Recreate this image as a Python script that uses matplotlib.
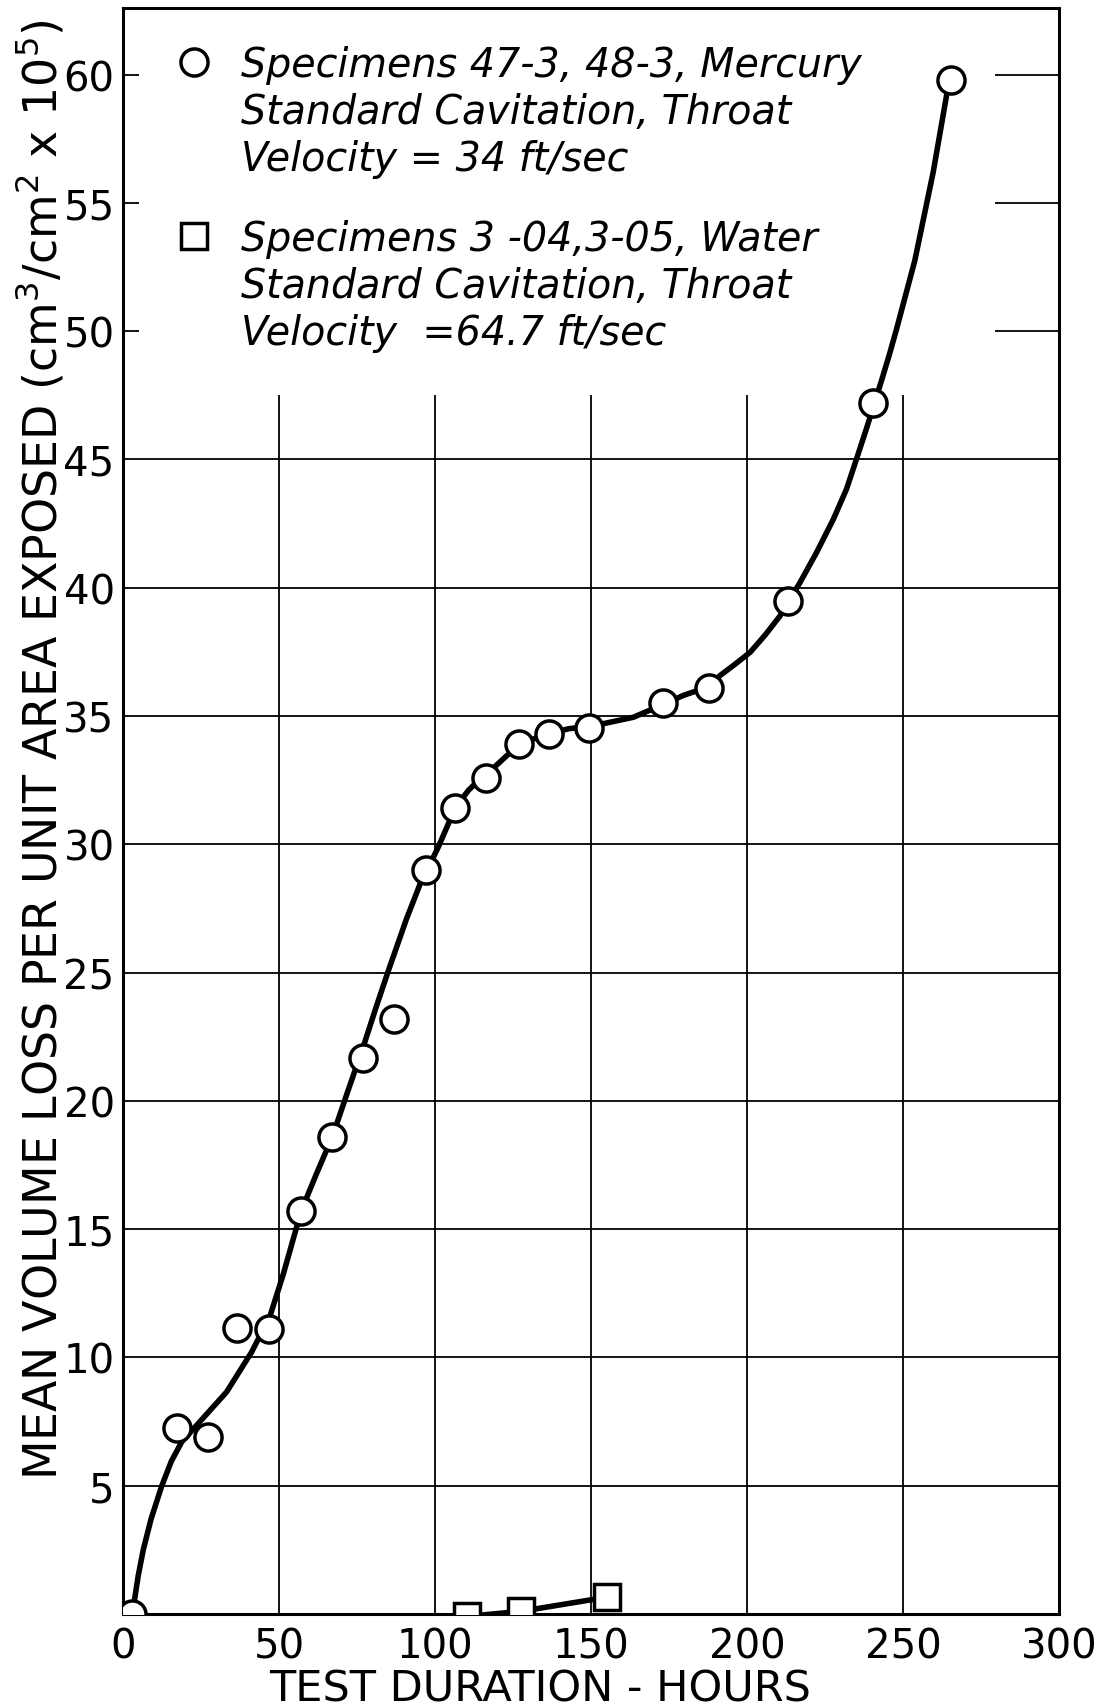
import matplotlib
matplotlib.use("Agg")
import matplotlib.pyplot as plt
from matplotlib.lines import Line2D

# Mercury specimens 47-3, 48-3 (hours, volume loss x 1e5)
hg_hours = [3.0, 17.4, 27.3, 36.6, 46.9, 57.1, 67.1, 77.0, 87.0, 97.0,
            106.4, 116.3, 126.9, 136.6, 149.4, 173.2, 187.9, 213.0, 240.5, 265.3]
hg_loss = [0.0, 7.25, 6.9, 11.15, 11.1, 15.7, 18.6, 21.65, 23.2, 29.0,
           31.4, 32.6, 33.9, 34.3, 34.55, 35.5, 36.1, 39.5, 47.2, 59.8]

# faired curve through the mercury points
curve_hours = [3.0, 4.9, 6.5, 9.0, 12.4, 15.5, 18.8, 24.7, 33.2, 41.2, 47.1,
               51.4, 57.1, 62.0, 67.1, 72.0, 77.0, 81.0, 85.0, 90.9, 97.0,
               99.5, 101.1, 104.3, 106.4, 110.7, 112.8, 116.3, 123.0, 126.9,
               131.5, 136.6, 142.7, 149.4, 154.0, 163.6, 173.2, 179.6, 187.9,
               191.3, 196.0, 201.0, 205.8, 210.6, 217.0, 222.3, 227.7, 231.9,
               235.1, 238.3, 240.5, 243.2, 245.8, 248.0, 253.8, 259.7, 264.0,
               265.3]
curve_loss = [0.0, 1.5, 2.5, 3.7, 4.98, 5.95, 6.7, 7.5, 8.65, 10.2, 11.6,
              13.25, 15.7, 17.15, 18.6, 20.35, 22.1, 23.6, 25.05, 27.1, 29.0,
              29.5, 29.9, 30.8, 31.4, 32.1, 32.35, 32.7, 33.45, 33.85,
              34.1, 34.3, 34.5, 34.6, 34.7, 34.95, 35.45, 35.8, 36.15,
              36.57, 37.0, 37.48, 38.15, 38.9, 40.2, 41.37, 42.67, 43.84,
              45.01, 46.2, 47.05, 48.1, 49.15, 50.1, 52.75, 56.2, 59.2,
              59.8]

# Water specimens 3-04, 3-05
water_hours = [110.2, 127.5, 155.0]
water_loss = [-0.1, 0.1, 0.65]

x_ticks = [0, 50, 100, 150, 200, 250, 300]
y_ticks = [5, 10, 15, 20, 25, 30, 35, 40, 45, 50, 55, 60]
grid_y = [5, 10, 15, 20, 25, 30, 35, 40, 45]
grid_x = [50, 100, 150, 200, 250]
short_y = [50, 55, 60]

hg_label = ["Specimens 47-3, 48-3, Mercury",
            "Standard Cavitation, Throat",
            "Velocity = 34 ft/sec"]
water_label = ["Specimens 3 -04,3-05, Water",
               "Standard Cavitation, Throat",
               "Velocity  =64.7 ft/sec"]


def make_legend(ax, marker, ms, lines, top):
    key = Line2D([], [], ls="none", marker=marker, ms=ms, mfc="white",
                 mec="black", mew=2.5)
    blank = Line2D([], [], ls="none")
    leg = ax.legend([key, blank, blank], lines, loc="upper left",
                    bbox_to_anchor=(0.0566, top), frameon=False,
                    borderpad=0, borderaxespad=0, handlelength=0.91,
                    handletextpad=0.74, labelspacing=0.2,
                    prop={"family": "DejaVu Sans", "style": "oblique", "size": 28.5})
    return leg


def main():
    fig = plt.figure(figsize=(11.1, 17.08), dpi=100)
    ax = fig.add_axes([0.1108, 0.0545, 0.8432, 0.9403])
    ax.set_xlim(0, 300)
    ax.set_ylim(0, 62.6)

    # ruled grid: full lines low down, short marks above the key
    ax.hlines(grid_y, 0, 300, colors="black", lw=1.3, zorder=1)
    ax.vlines(grid_x, 0, 47.5, colors="black", lw=1.3, zorder=1)
    ax.hlines(short_y, 0, 5, colors="black", lw=1.3, zorder=1)
    ax.hlines(short_y, 279.5, 300, colors="black", lw=1.3, zorder=1)

    ax.plot(curve_hours, curve_loss, color="black", lw=4, zorder=2,
            solid_capstyle="round", solid_joinstyle="round")
    ax.plot(hg_hours, hg_loss, ls="none", marker="o", ms=19.5, mfc="white",
            mec="black", mew=2.5, zorder=3)
    ax.plot(water_hours, water_loss, color="black", lw=4, marker="s", ms=19,
            mfc="white", mec="black", mew=2.5, zorder=3)

    for side in ax.spines.values():
        side.set_linewidth(2.2)

    ax.set_xticks(x_ticks)
    ax.set_yticks(y_ticks)
    ax.tick_params(length=0, labelsize=29)
    ax.tick_params(axis="x", pad=9)
    ax.tick_params(axis="y", pad=6)

    ax.set_xlabel("TEST DURATION - HOURS", fontsize=31)
    ax.xaxis.set_label_coords(0.4455, -0.0462)
    ax.xaxis.label.set_va("center")
    ax.set_ylabel(r"MEAN VOLUME LOSS PER UNIT AREA EXPOSED (cm$^3$/cm$^2$ x 10$^5$)",
                  fontsize=33)
    ax.yaxis.set_label_coords(-0.088, 0.539)
    ax.yaxis.label.set_va("center")

    first = make_legend(ax, "o", 19.5, hg_label, 0.977)
    ax.add_artist(first)
    make_legend(ax, "s", 19, water_label, 0.8685)

    fig.savefig("out.png", dpi=100, facecolor="white")


if __name__ == "__main__":
    main()
